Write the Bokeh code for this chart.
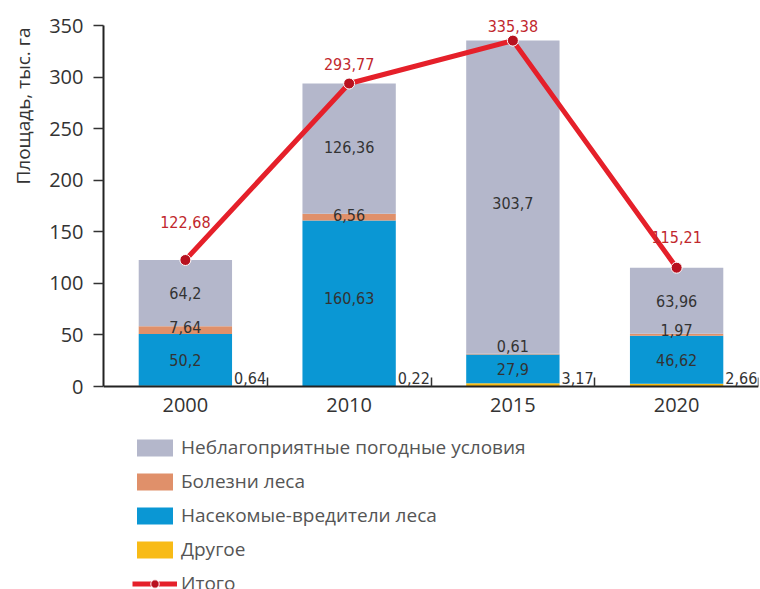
from bokeh.plotting import figure
from bokeh.models import ColumnDataSource, FixedTicker, Legend, LegendItem, Title
from bokeh.core.properties import value
from bokeh.embed import file_html
from bokeh.resources import INLINE

# ---- data ----
years = ["2000", "2010", "2015", "2020"]
other = [0.64, 0.22, 3.17, 2.66]
insects = [50.2, 160.63, 27.9, 46.62]
disease = [7.64, 6.56, 0.61, 1.97]
weather = [64.2, 126.36, 303.7, 63.96]
total = [122.68, 293.77, 335.38, 115.21]
y_ticks = [0, 50, 100, 150, 200, 250, 300, 350]
series_names = ["Неблагоприятные погодные условия", "Болезни леса",
                "Насекомые-вредители леса", "Другое", "Итого"]
y_title = "Площадь, тыс. га"

# ---- styles ----
C_WEATHER = "#b4b7cb"
C_DISEASE = "#e0906a"
C_INSECT = "#0a97d4"
C_OTHER = "#f8bb16"
C_LINE = "#e5202a"
C_POINT = "#b8111f"
C_TOTAL_TXT = "#c1272d"
TXT = "#333333"
FONT = "Open Sans"
NARROW = value("'DejaVu Sans Condensed', sans-serif")
LBL_SIZE = "16px"
BAR_W = 0.57


def fmt(v):
    return f"{v:g}".replace(".", ",")


x = [i + 0.5 for i in range(len(years))]
src = ColumnDataSource(dict(x=x, other=other, insects=insects, disease=disease,
                            weather=weather, total=total))

# frame spans the whole height; the x axis is pinned at y = 0 and the
# legend sits in the frame area below it
p = figure(width=760, height=589, x_range=(0, 4), y_range=(-196.8, 363.6),
           output_backend="svg", toolbar_location=None,
           min_border_left=102, min_border_right=2, min_border_top=11,
           min_border_bottom=0)
p.grid.visible = False
p.outline_line_color = None

bars = p.vbar_stack(["other", "insects", "disease", "weather"], x="x", width=BAR_W,
                    source=src, color=[C_OTHER, C_INSECT, C_DISEASE, C_WEATHER],
                    line_color=None)
r_other, r_insect, r_disease, r_weather = bars

line_r = p.line("x", "total", source=src, line_color=C_LINE, line_width=5)
pt_r = p.scatter("x", "total", source=src, size=11, fill_color=C_POINT,
                 line_color="white", line_width=1)

# ---- value labels ----
n = len(years)
ins_mid = [other[i] + insects[i] / 2 for i in range(n)]
dis_mid = [other[i] + insects[i] + disease[i] / 2 for i in range(n)]
wea_mid = [other[i] + insects[i] + disease[i] + weather[i] / 2 for i in range(n)]
dis_dy = [-3, -2, -8, -5]
ins_dy = [0, -5, 0, 0]
wea_dy = [0, -2, 6, 0]
tot_dy = [-38, -20, -15, -31]

lab_kw = dict(text_font=NARROW, text_font_size=LBL_SIZE, text_color=TXT,
              text_align="center", text_baseline="middle")
p.text(x=x, y=ins_mid, text=[fmt(v) for v in insects], y_offset=ins_dy, **lab_kw)
p.text(x=x, y=dis_mid, text=[fmt(v) for v in disease], y_offset=dis_dy, **lab_kw)
p.text(x=x, y=wea_mid, text=[fmt(v) for v in weather], y_offset=wea_dy, **lab_kw)
p.text(x=[xi + BAR_W / 2 for xi in x], y=[0] * n, text=[fmt(v) for v in other],
       x_offset=2, y_offset=-3, text_font=NARROW, text_font_size=LBL_SIZE,
       text_color=TXT, text_align="left", text_baseline="bottom")
p.text(x=x, y=total, text=[fmt(v) for v in total], y_offset=tot_dy,
       text_font=NARROW, text_font_size=LBL_SIZE, text_color=C_TOTAL_TXT,
       text_align="center", text_baseline="middle")

# ---- axes ----
ya = p.yaxis[0]
ya.ticker = FixedTicker(ticks=y_ticks)
ya.bounds = (0, 350)
ya.axis_line_width = 2
ya.axis_line_color = "#222222"
ya.major_tick_line_color = "#333333"
ya.major_tick_line_width = 1.5
ya.major_tick_out = 10
ya.major_tick_in = 0
ya.minor_tick_line_color = None
ya.major_label_standoff = 10
ya.major_label_text_font = FONT
ya.major_label_text_font_size = "20px"
ya.major_label_text_color = TXT

xa = p.xaxis[0]
xa.fixed_location = 0
xa.ticker = FixedTicker(ticks=x, minor_ticks=[i + 1 for i in range(n)])
xa.major_label_overrides = {xi: yr for xi, yr in zip(x, years)}
xa.axis_line_width = 2
xa.axis_line_color = "#222222"
xa.major_tick_in = 0
xa.major_tick_out = 0
xa.minor_tick_in = 9
xa.minor_tick_out = 0
xa.minor_tick_line_color = "#333333"
xa.minor_tick_line_width = 1.5
xa.major_label_standoff = 11
xa.major_label_text_font = FONT
xa.major_label_text_font_size = "20px"
xa.major_label_text_color = TXT

t = Title(text=y_title, align="right", vertical_align="top", offset=16, standoff=18,
          text_font=FONT, text_font_size="19px", text_font_style="normal",
          text_color=TXT)
p.add_layout(t, "left")

# ---- legend ----
items = [LegendItem(label=series_names[0], renderers=[r_weather]),
         LegendItem(label=series_names[1], renderers=[r_disease]),
         LegendItem(label=series_names[2], renderers=[r_insect]),
         LegendItem(label=series_names[3], renderers=[r_other]),
         LegendItem(label=series_names[4], renderers=[line_r, pt_r])]
leg = Legend(items=items, location=(29, -7), glyph_width=45, glyph_height=21,
             label_height=21, spacing=8, label_standoff=4, padding=0, margin=0,
             border_line_color=None, background_fill_alpha=0,
             label_text_font=FONT, label_text_font_size="19px",
             label_text_color="#555555")
p.add_layout(leg, "center")

open("out.html", "w").write(file_html(p, INLINE))
